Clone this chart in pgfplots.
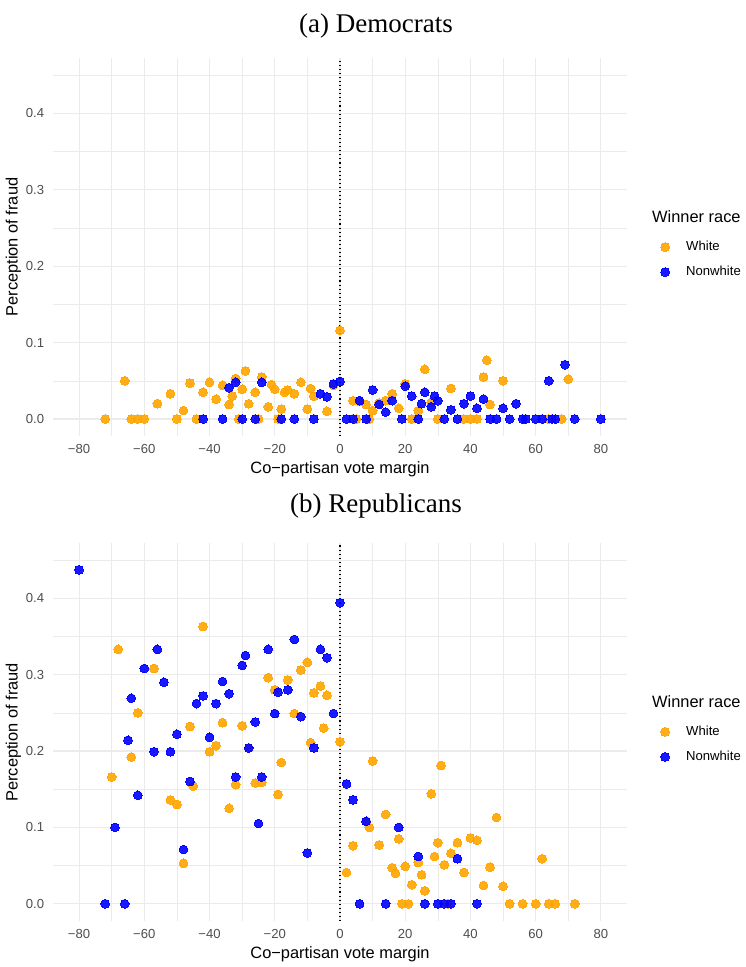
\documentclass[border=0pt]{standalone}
\usepackage{fontspec}
\setmainfont{Liberation Sans}
\newfontfamily\serifft{Liberation Serif}
\usepackage{pgfplots}
\pgfplotsset{compat=1.18}
\definecolor{gridc}{RGB}{235,235,235}
\definecolor{tickc}{RGB}{77,77,77}
\definecolor{worange}{RGB}{255,165,0}
\definecolor{nwblue}{RGB}{0,0,255}
\pgfplotsset{
 panel/.style={
  scale only axis, width=574pt, height=378.2pt,
  xmin=-88,xmax=88,ymin=-0.0225,ymax=0.4725,
  xtick={-80,-60,-40,-20,0,20,40,60,80},
  xticklabels={−80,−60,−40,−20,0,20,40,60,80},
  minor xtick={-70,-50,-30,-10,10,30,50,70},
  ytick={0,0.1,0.2,0.3,0.4}, yticklabels={0.0,0.1,0.2,0.3,0.4},
  minor ytick={0.05,0.15,0.25,0.35,0.45},
  grid=both,
  major grid style={gridc, line width=1.07pt},
  minor grid style={gridc, line width=0.53pt},
  axis line style={draw=none},
  major tick length=0pt, minor tick length=0pt,
  tick style={draw=none},
  ticklabel style={font=\fontsize{13.1}{15}\selectfont, text=tickc},
  xticklabel style={anchor=base, inner sep=0pt, yshift=-17.8pt},
  yticklabel style={anchor=east, inner sep=0pt, xshift=-8.7pt},
  legend style={at={(axis description cs:1,0.5)}, anchor=west, xshift=33.7pt, yshift=-12.5pt,
    draw=none, fill=none, inner sep=0pt, outer sep=0pt,
    nodes={inner sep=0pt, text height=9.5pt, text depth=2.8pt},
    row sep=12.7pt, font=\fontsize{13.1}{15}\selectfont,
    /tikz/every odd column/.append style={column sep=16.7pt}},
  legend cell align=left,
  legend image code/.code={\draw[##1] plot coordinates {(0pt,0pt)};},
 },
 wpt/.style={only marks, mark=*, mark size=4.4pt, mark options={fill=worange, draw=worange, line width=0pt, opacity=0.9}},
 npt/.style={only marks, mark=*, mark size=4.4pt, mark options={fill=nwblue, draw=nwblue, line width=0pt, opacity=0.9}},
 vline/.style={black, line width=1.07pt, dash pattern=on 1.07pt off 3.0pt, forget plot},
}
\begin{document}
\begin{tikzpicture}
\path[use as bounding box] (0pt,0pt) rectangle (746pt,967pt);
% ---------- (a) Democrats ----------
\begin{axis}[panel, at={(53pt,530.8pt)}, anchor=south west]
\addplot[wpt] coordinates {
(-72,0) (-66,0.050) (-64,0) (-62,0) (-60,0) (-56,0.020) (-52,0.033) (-50,0) (-48,0.011)
(-46,0.047) (-44,0) (-42,0.035) (-40,0.048) (-38,0.026) (-36,0.044) (-34,0.019) (-33,0.030)
(-32,0.053) (-31,0) (-30,0.039) (-29,0.063) (-28,0.020) (-26,0.035) (-25,0) (-24,0.055)
(-22,0.016) (-21,0.045) (-20,0.039) (-19,0) (-18,0.013) (-17,0.035) (-16,0.038) (-14,0.033)
(-12,0.048) (-10,0.013) (-9,0.040) (-8,0.030) (-4,0.010) (-2,0.044) (0,0.116)
(4,0.024) (5,0) (6,0.023) (8,0.019) (9,0) (10,0.011) (12,0.021) (14,0.024) (16,0.033)
(18,0.014) (20,0.046) (22,0) (24,0.011) (26,0.065) (28,0.022) (30,0) (34,0.040) (38,0)
(40,0) (42,0) (44,0.055) (45,0.077) (46,0.019) (50,0.050) (64,0) (68,0) (70,0.052)
};
\addlegendentry{White}
\addplot[npt] coordinates {
(-42,0) (-36,0) (-34,0.041) (-32,0.048) (-30,0) (-26,0) (-24,0.048) (-18,0) (-14,0) (-8,0)
(-6,0.033) (-4,0.029) (-2,0.046) (0,0.049) (2,0) (4,0) (6,0.024) (8,0) (10,0.038) (12,0.019)
(14,0.009) (16,0.024) (19,0) (20,0.043) (22,0.030) (24,0) (25,0.020) (26,0.035) (28,0.016)
(29,0.030) (30,0.024) (32,0) (34,0.012) (36,0) (38,0.020) (40,0.030) (42,0.014) (44,0.026)
(46,0) (48,0) (50,0.014) (52,0) (54,0.020) (56,0) (57,0) (60,0) (62,0) (64,0.050) (65,0)
(66,0) (69,0.071) (72,0) (80,0)
};
\addlegendentry{Nonwhite}
\addplot[vline] coordinates {(0,-0.0225) (0,0.4725)};
\end{axis}
% ---------- (b) Republicans ----------
\begin{axis}[panel, at={(53pt,46pt)}, anchor=south west]
\addplot[wpt] coordinates {
(-68,0.333) (-57,0.308) (-62,0.25) (-46,0.232) (-36,0.237) (-30,0.233) (-42,0.363) (-38,0.207)
(-40,0.199) (-28,0.204) (-64,0.192) (-70,0.166) (-45,0.154) (-32,0.156) (-26,0.158) (-24,0.159)
(-52,0.136) (-50,0.130) (-34,0.125) (-48,0.053)
(-10,0.316) (-12,0.306) (-22,0.296) (-16,0.293) (-20,0.280) (-6,0.285) (-8,0.276) (-4,0.273)
(-14,0.249) (-5,0.230) (0,0.212) (-9,0.211) (-18,0.185) (-19,0.143)
(10,0.187) (4,0.076) (12,0.077) (2,0.041) (9,0.100) (8,0.108)
(31,0.181) (28,0.144) (14,0.117) (48,0.113) (18,0.085) (30,0.080) (36,0.080) (40,0.086)
(42,0.083) (29,0.062) (34,0.066) (24,0.054) (32,0.051) (20,0.049) (16,0.047) (17,0.040)
(46,0.048) (38,0.041) (25,0.038) (22,0.025) (26,0.017) (44,0.024) (62,0.059) (50,0.023)
(19,0) (21,0) (33,0) (52,0) (56,0) (60,0) (64,0) (66,0) (72,0)
};
\addlegendentry{White}
\addplot[npt] coordinates {
(-80,0.437) (-56,0.333) (-29,0.325) (-30,0.312) (-60,0.308) (-54,0.290) (-36,0.291) (-64,0.269)
(-42,0.272) (-34,0.275) (-44,0.262) (-38,0.262) (-26,0.238) (-65,0.214) (-50,0.222) (-40,0.218)
(-28,0.204) (-57,0.199) (-52,0.199) (-46,0.160) (-32,0.166) (-62,0.142) (-25,0.105)
(-69,0.100) (-48,0.071) (-72,0) (-66,0)
(0,0.394) (-14,0.346) (-22,0.333) (-6,0.333) (-4,0.322) (-19,0.277) (-16,0.280) (-20,0.249)
(-12,0.245) (-2,0.249) (-8,0.204) (-24,0.166) (2,0.157) (4,0.136) (8,0.108) (-10,0.0666) (6,0)
(18,0.100) (24,0.062) (36,0.059) (14,0) (26,0) (30,0) (32,0) (34,0) (42,0)
};
\addlegendentry{Nonwhite}
\addplot[vline] coordinates {(0,-0.0225) (0,0.4725)};
\end{axis}
% ---------- texts ----------
\node[anchor=base, inner sep=0pt, font=\serifft\fontsize{27}{30}\selectfont] at (376pt,934.7pt) {(a) Democrats};
\node[anchor=base, inner sep=0pt, font=\serifft\fontsize{27}{30}\selectfont] at (376pt,454.3pt) {(b) Republicans};
\node[anchor=base, inner sep=0pt, font=\fontsize{16.4}{19}\selectfont] at (340pt,493.7pt) {Co−partisan vote margin};
\node[anchor=base, inner sep=0pt, font=\fontsize{16.4}{19}\selectfont] at (340pt,9pt) {Co−partisan vote margin};
\node[anchor=base, inner sep=0pt, rotate=90, font=\fontsize{16.4}{19}\selectfont] at (17.5pt,720pt) {Perception of fraud};
\node[anchor=base, inner sep=0pt, rotate=90, font=\fontsize{16.4}{19}\selectfont] at (17.5pt,234.6pt) {Perception of fraud};
\node[anchor=base west, inner sep=0pt, font=\fontsize{16.4}{19}\selectfont] at (652pt,744pt) {Winner race};
\node[anchor=base west, inner sep=0pt, font=\fontsize{16.4}{19}\selectfont] at (652pt,259.2pt) {Winner race};
\end{tikzpicture}
\end{document}
